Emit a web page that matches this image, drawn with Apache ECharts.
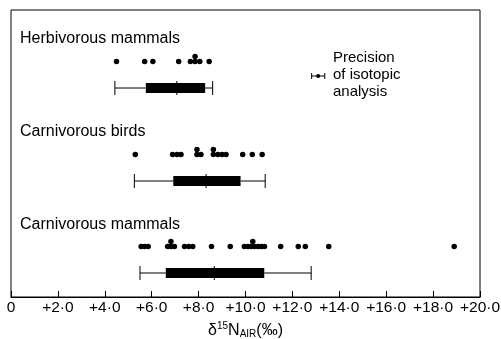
<!DOCTYPE html>
<html>
<head>
<meta charset="utf-8">
<script src="https://cdn.jsdelivr.net/npm/echarts@6/dist/echarts.min.js"></script>
<style>
  html, body { margin: 0; padding: 0; background: #fff; }
  #chart { width: 501px; height: 339px; }
</style>
</head>
<body>
<div id="chart"></div>
<script>
// groups, top to bottom
const groups = ['Herbivorous mammals', 'Carnivorous birds', 'Carnivorous mammals'];

// individual d15N values (dots), plus the ones drawn stacked on top of a neighbour
const herbDots = [4.5, 5.7, 6.05, 7.15, 7.65, 7.85, 8.05, 8.45];
const herbDotsUpper = [7.85];
const birdDots = [5.3, 6.89, 7.08, 7.25, 7.93, 8.1, 8.63, 8.82, 9.0, 9.17, 9.88, 10.29, 10.71];
const birdDotsUpper = [7.93, 8.63];
const mammalDots = [5.55, 5.7, 5.85, 6.68, 6.82, 6.97, 7.4, 7.58, 7.75, 8.55, 9.35,
    9.95, 10.1, 10.24, 10.38, 10.53, 10.67, 10.81, 11.5, 12.25, 12.55, 13.55, 18.9];
const mammalDotsUpper = [6.82, 10.31];

// box stats: min, q1, median, q3, max
const herbBox = [4.43, 5.75, 7.07, 8.28, 8.6];
const birdBox = [5.26, 6.92, 8.32, 9.79, 10.84];
const mammalBox = [5.5, 6.6, 8.67, 10.8, 12.8];

// precision of isotopic analysis: centre, +/- range
const precision = [13.1, 0.28];

// x ticks
const xMin = 0, xMax = 20, xStep = 2;

// layout (y in px from top of the grid)
const rowOffset = [0, 93, 185];
const dotY = 51.5, upperY = 46.5, boxY = 78;
const labelY = [40, 133, 226];
const font = '"Liberation Sans", Arial, sans-serif';

const dotSets = [[herbDots, herbDotsUpper], [birdDots, birdDotsUpper], [mammalDots, mammalDotsUpper]];
const boxes = [herbBox, birdBox, mammalBox];

const dotData = [];
dotSets.forEach((set, i) => {
    set[0].forEach(v => dotData.push([v, rowOffset[i] + dotY]));
    set[1].forEach(v => dotData.push([v, rowOffset[i] + upperY]));
});

const boxData = boxes.map((b, i) => [i].concat(b));

function fmtTick(v) {
    if (v === 0) return '0';
    return '+' + v.toFixed(1).replace('.', '\u00b7');
}

const chart = echarts.init(document.getElementById('chart'));

const option = {
    animation: false,
    backgroundColor: '#fff',
    grid: {
        left: 11, right: 21, top: 10, bottom: 42,
        outerBoundsMode: 'none',
        containLabel: false,
        show: true, borderColor: '#000', borderWidth: 1
    },
    xAxis: {
        type: 'value',
        min: xMin, max: xMax, interval: xStep,
        axisLine: { show: true, onZero: false, lineStyle: { color: '#000', width: 1 } },
        axisTick: { show: true, inside: true, length: 6, lineStyle: { color: '#000' } },
        splitLine: { show: false },
        axisLabel: {
            color: '#000', fontSize: 15.5, fontFamily: font, margin: 3,
            formatter: fmtTick
        },
        name: '{d|\u03b4}{sup|15}{n|N}{sub|AIR}{n|(\u2030)}',
        nameLocation: 'middle',
        nameGap: 17,
        nameTextStyle: {
            color: '#000', fontFamily: font,
            rich: {
                d: { fontSize: 16, color: '#000', fontFamily: font },
                n: { fontSize: 16, color: '#000', fontFamily: font },
                sup: { fontSize: 10, color: '#000', fontFamily: font, padding: [0, 0, 9, 0] },
                sub: { fontSize: 10, color: '#000', fontFamily: font, padding: [7, 0, 0, 0] }
            }
        }
    },
    yAxis: {
        type: 'value', min: 0, max: 287, inverse: true, show: false
    },
    graphic: groups.map((g, i) => ({
        type: 'text', left: 20, top: labelY[i] - 9,
        style: { text: g, fill: '#000', font: '16px ' + font }
    })).concat([{
        type: 'text', left: 333, top: 49,
        style: {
            text: 'Precision\nof isotopic\nanalysis', fill: '#000',
            font: '15px ' + font, lineHeight: 17
        }
    }]),
    series: [
        {
            type: 'scatter',
            data: dotData,
            symbol: 'circle',
            symbolSize: 5.5,
            itemStyle: { color: '#000', opacity: 1 },
            silent: true
        },
        {
            type: 'custom',
            data: boxData,
            encode: { x: [1, 2, 3, 4, 5], y: 0 },
            renderItem: function (params, api) {
                const row = api.value(0);
                const y = rowOffset[row] + boxY;
                const pMin = api.coord([api.value(1), y]);
                const pQ1 = api.coord([api.value(2), y]);
                const pMed = api.coord([api.value(3), y]);
                const pQ3 = api.coord([api.value(4), y]);
                const pMax = api.coord([api.value(5), y]);
                const cy = pMin[1];
                const cap = 7, half = 5;
                const ls = { stroke: '#000', lineWidth: 1 };
                return {
                    type: 'group',
                    children: [
                        { type: 'line', shape: { x1: pMin[0], y1: cy, x2: pQ1[0], y2: cy }, style: ls },
                        { type: 'line', shape: { x1: pQ3[0], y1: cy, x2: pMax[0], y2: cy }, style: ls },
                        { type: 'line', shape: { x1: pMin[0], y1: cy - cap, x2: pMin[0], y2: cy + cap }, style: ls },
                        { type: 'line', shape: { x1: pMax[0], y1: cy - cap, x2: pMax[0], y2: cy + cap }, style: ls },
                        { type: 'rect', shape: { x: pQ1[0], y: cy - half, width: pQ3[0] - pQ1[0], height: half * 2 }, style: { fill: '#000' } },
                        { type: 'line', shape: { x1: pMed[0], y1: cy - cap, x2: pMed[0], y2: cy + cap }, style: ls }
                    ]
                };
            },
            silent: true
        },
        {
            type: 'custom',
            data: [precision],
            encode: { x: [0], y: [] },
            renderItem: function (params, api) {
                const c = api.value(0), h = api.value(1);
                const y = 66;
                const pL = api.coord([c - h, y]);
                const pC = api.coord([c, y]);
                const pR = api.coord([c + h, y]);
                const cy = pC[1];
                const ls = { stroke: '#000', lineWidth: 1 };
                return {
                    type: 'group',
                    children: [
                        { type: 'line', shape: { x1: pL[0], y1: cy, x2: pR[0], y2: cy }, style: ls },
                        { type: 'line', shape: { x1: pL[0], y1: cy - 3, x2: pL[0], y2: cy + 3 }, style: ls },
                        { type: 'line', shape: { x1: pR[0], y1: cy - 3, x2: pR[0], y2: cy + 3 }, style: ls },
                        { type: 'circle', shape: { cx: pC[0], cy: cy, r: 2 }, style: { fill: '#000' } }
                    ]
                };
            },
            silent: true
        }
    ]
};

chart.setOption(option);
</script>
</body>
</html>
